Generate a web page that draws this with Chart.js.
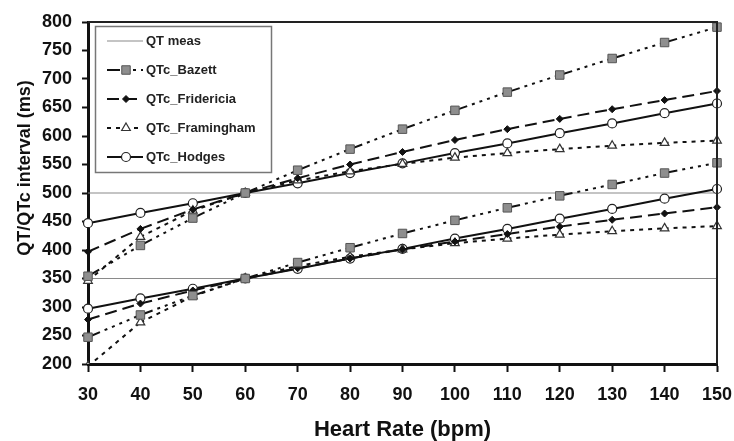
<!DOCTYPE html>
<html>
<head>
<meta charset="utf-8">
<script src="https://cdn.jsdelivr.net/npm/chart.js@4.4.0/dist/chart.umd.min.js"></script>
<style>
  body { margin: 0; background: #fff; }
</style>
</head>
<body>
<canvas id="myChart" width="734" height="441"></canvas>
<script>
// heart rate (bpm) and QT / corrected QT (ms) for a measured QT of 500 and 350 ms
const heartRate = [30, 40, 50, 60, 70, 80, 90, 100, 110, 120, 130, 140, 150]
const qtMeas = [500, 350]

const bazett500 = [354, 408, 456, 500, 540, 577, 612, 645, 677, 707, 736, 764, 791]
const bazett350 = [247, 286, 320, 350, 378, 404, 429, 452, 474, 495, 515, 535, 553]
const fridericia500 = [397, 437, 471, 500, 526, 550, 572, 593, 612, 630, 647, 663, 679]
const fridericia350 = [278, 306, 329, 350, 368, 385, 401, 415, 428, 441, 453, 464, 475]
const framingham500 = [346, 423, 469, 500, 522, 538, 551, 562, 570, 577, 583, 588, 592]
const framingham350 = [196, 273, 319, 350, 372, 388, 401, 412, 420, 427, 433, 438, 442]
const hodges500 = [447, 465, 482, 500, 517, 535, 552, 570, 587, 605, 622, 640, 657]
const hodges350 = [297, 315, 332, 350, 367, 385, 402, 420, 437, 455, 472, 490, 507]

const yTicks = [200, 800, 50]
const xTicks = [30, 150, 10]

const ink = '#111'
const fontFamily = '"Liberation Sans", Arial, sans-serif'

const bazettStyle = {
    borderColor: ink, borderWidth: 2,
    borderDash: [13, 5, 3, 5, 3, 5, 3, 5, 3, 5, 3, 5, 3, 5, 3, 5, 3, 5],
    pointStyle: 'rect', pointRadius: 6,
    pointBackgroundColor: '#8e8e8e', pointBorderColor: '#555', pointBorderWidth: 1
}
const fridericiaStyle = {
    borderColor: ink, borderWidth: 2, borderDash: [12, 6],
    pointStyle: 'rectRot', pointRadius: 3.5,
    pointBackgroundColor: ink, pointBorderColor: ink, pointBorderWidth: 1
}
const framinghamStyle = {
    borderColor: ink, borderWidth: 2, borderDash: [4, 5],
    pointStyle: 'triangle', pointRadius: 5,
    pointBackgroundColor: '#fff', pointBorderColor: '#333', pointBorderWidth: 1.2
}
const hodgesStyle = {
    borderColor: ink, borderWidth: 2, borderDash: [],
    pointStyle: 'circle', pointRadius: 4.5,
    pointBackgroundColor: '#fff', pointBorderColor: '#222', pointBorderWidth: 1.2
}
const qtStyle = {
    borderColor: '#8a8a8a', borderWidth: 1.2, borderDash: [], pointRadius: 0, order: 10
}

const toPoints = (values) => values.map((v, i) => ({x: heartRate[i], y: v}))

const series = (label, values, style) => Object.assign({
    label: label,
    data: toPoints(values),
    fill: false,
    tension: 0,
    clip: {left: 8, top: 8, right: 8, bottom: 0},
    // restart the dash pattern at every marker
    segment: {borderDashOffset: (c) => (c.p0DataIndex % 2) * 0.01},
}, style)

const qtLine = (v) => Object.assign({
    label: 'QT meas',
    data: [{x: heartRate[0], y: v}, {x: heartRate[heartRate.length - 1], y: v}],
    fill: false,
}, qtStyle)

const datasets = [
    qtLine(qtMeas[0]), qtLine(qtMeas[1]),
    series('QTc_Bazett', bazett500, bazettStyle),
    series('QTc_Bazett', bazett350, bazettStyle),
    series('QTc_Fridericia', fridericia500, fridericiaStyle),
    series('QTc_Fridericia', fridericia350, fridericiaStyle),
    series('QTc_Framingham', framingham500, framinghamStyle),
    series('QTc_Framingham', framingham350, framinghamStyle),
    series('QTc_Hodges', hodges500, hodgesStyle),
    series('QTc_Hodges', hodges350, hodgesStyle),
]

// frame, rotated y title and boxed legend
const extras = {
    id: 'extras',
    afterDraw(chart) {
        const ctx = chart.ctx
        const area = chart.chartArea
        ctx.save()

        ctx.strokeStyle = '#222'
        ctx.lineWidth = 2
        ctx.beginPath()
        ctx.moveTo(area.left, area.top)
        ctx.lineTo(area.right, area.top)
        ctx.lineTo(area.right, area.bottom)
        ctx.stroke()

        ctx.save()
        ctx.translate(25, 168)
        ctx.rotate(-Math.PI / 2)
        ctx.fillStyle = ink
        ctx.font = 'bold 18px ' + fontFamily
        ctx.textAlign = 'center'
        ctx.textBaseline = 'middle'
        ctx.fillText('QT/QTc interval (ms)', 0, 0)
        ctx.restore()

        const box = {x: 95.5, y: 26.5, w: 176, h: 146}
        ctx.fillStyle = '#fff'
        ctx.fillRect(box.x, box.y, box.w, box.h)
        ctx.strokeStyle = '#777'
        ctx.lineWidth = 1.5
        ctx.strokeRect(box.x, box.y, box.w, box.h)

        const seen = []
        chart.data.datasets.forEach((ds) => {
            if (seen.indexOf(ds.label) === -1) seen.push(ds.label)
        })
        seen.forEach((label, i) => {
            const ds = chart.data.datasets.find((d) => d.label === label)
            const y = 41 + i * 29
            ctx.save()
            ctx.strokeStyle = ds.borderColor
            ctx.lineWidth = ds.borderWidth
            ctx.setLineDash(ds.borderDash || [])
            ctx.beginPath()
            ctx.moveTo(107, y)
            ctx.lineTo(143, y)
            ctx.stroke()
            ctx.setLineDash([])
            if (ds.pointRadius) {
                ctx.fillStyle = ds.pointBackgroundColor
                ctx.strokeStyle = ds.pointBorderColor
                ctx.lineWidth = ds.pointBorderWidth
                Chart.helpers.drawPoint(ctx, {
                    pointStyle: ds.pointStyle, radius: ds.pointRadius,
                    rotation: 0, borderWidth: ds.pointBorderWidth
                }, 126, y)
            }
            ctx.restore()
            ctx.fillStyle = '#222'
            ctx.font = 'bold 13px ' + fontFamily
            ctx.textAlign = 'left'
            ctx.textBaseline = 'middle'
            ctx.fillText(label, 146, y)
        })
        ctx.restore()
    }
}

Chart.defaults.font.family = fontFamily
Chart.defaults.color = ink

const ctx = document.getElementById('myChart').getContext('2d')
const myChart = new Chart(ctx, {
    type: 'line',
    data: {datasets: datasets},
    plugins: [extras],
    options: {
        responsive: false,
        animation: false,
        events: [],
        layout: {padding: {left: 0, top: 22, right: 17, bottom: 0}},
        plugins: {legend: {display: false}, tooltip: {enabled: false}},
        scales: {
            x: {
                type: 'linear',
                min: xTicks[0], max: xTicks[1],
                ticks: {stepSize: xTicks[2], padding: 12, font: {size: 18, weight: 'bold'}, color: ink},
                grid: {drawOnChartArea: false, drawTicks: true, tickLength: 8, tickWidth: 2, tickColor: ink},
                border: {display: true, color: ink, width: 3},
                title: {display: true, text: 'Heart Rate (bpm)', font: {size: 22, weight: 'bold'}, color: ink, padding: {top: 0, bottom: -2}},
                afterFit: (scale) => {
                    scale.height = 77
                    scale.paddingLeft = 0
                    scale.paddingRight = 0
                }
            },
            y: {
                min: yTicks[0], max: yTicks[1],
                ticks: {stepSize: yTicks[2], padding: 10, font: {size: 18, weight: 'bold'}, color: ink},
                grid: {drawOnChartArea: false, drawTicks: true, tickLength: 6, tickWidth: 2, tickColor: ink},
                border: {display: true, color: ink, width: 3},
                afterFit: (scale) => { scale.width = 88 }
            }
        }
    }
})
</script>
</body>
</html>
